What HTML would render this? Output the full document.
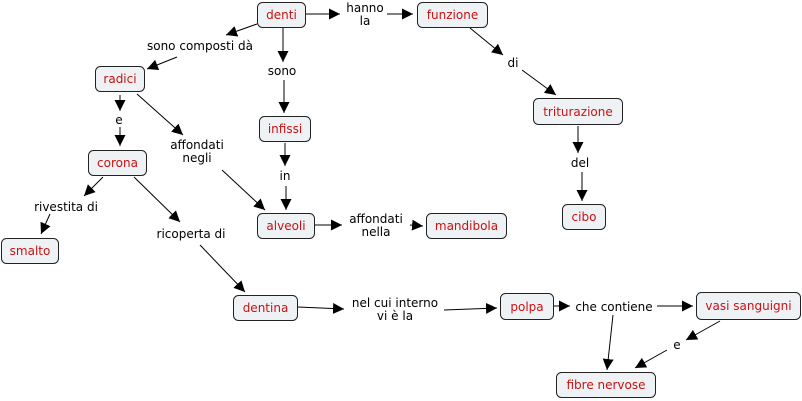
<!DOCTYPE html>
<html><head><meta charset="utf-8"><style>
html,body{margin:0;padding:0;background:#fff;width:802px;height:401px;overflow:hidden}
svg text{font-family:"DejaVu Sans","Liberation Sans",sans-serif;font-size:12px}
.n rect{fill:#eef2f5;stroke:#222;stroke-width:1}
.n text{fill:#cc1111;text-anchor:middle}
.l{fill:#000;text-anchor:middle}
line{stroke:#000;stroke-width:1}
</style></head><body>
<svg width="802" height="401" xmlns="http://www.w3.org/2000/svg">
<defs><marker id="a" viewBox="0 0 10 10" refX="10" refY="5" markerWidth="11" markerHeight="11" markerUnits="userSpaceOnUse" orient="auto"><path d="M0,0L10,5L0,10z" fill="#000"/></marker></defs>
<g>
<line x1="306" y1="14" x2="340" y2="14" marker-end="url(#a)"/>
<line x1="387" y1="14" x2="413" y2="14" marker-end="url(#a)"/>
<line x1="257" y1="24" x2="226" y2="35" marker-end="url(#a)"/>
<line x1="177" y1="57" x2="147" y2="69" marker-end="url(#a)"/>
<line x1="283" y1="28" x2="283" y2="62" marker-end="url(#a)"/>
<line x1="284" y1="80" x2="284" y2="113" marker-end="url(#a)"/>
<line x1="470" y1="28" x2="503" y2="55" marker-end="url(#a)"/>
<line x1="522" y1="70" x2="556" y2="95" marker-end="url(#a)"/>
<line x1="120" y1="95" x2="120" y2="111" marker-end="url(#a)"/>
<line x1="120" y1="127" x2="120" y2="146" marker-end="url(#a)"/>
<line x1="137" y1="94" x2="183" y2="135" marker-end="url(#a)"/>
<line x1="222" y1="170" x2="265" y2="210" marker-end="url(#a)"/>
<line x1="285" y1="143" x2="285" y2="166" marker-end="url(#a)"/>
<line x1="286" y1="186" x2="286" y2="210" marker-end="url(#a)"/>
<line x1="578" y1="126" x2="578" y2="153" marker-end="url(#a)"/>
<line x1="582" y1="172" x2="582" y2="201" marker-end="url(#a)"/>
<line x1="315" y1="225" x2="342" y2="225" marker-end="url(#a)"/>
<line x1="410" y1="225" x2="423" y2="226" marker-end="url(#a)"/>
<line x1="103" y1="177" x2="84" y2="196" marker-end="url(#a)"/>
<line x1="50" y1="214" x2="41" y2="234" marker-end="url(#a)"/>
<line x1="134" y1="177" x2="180" y2="222" marker-end="url(#a)"/>
<line x1="200" y1="245" x2="245" y2="292" marker-end="url(#a)"/>
<line x1="298" y1="307" x2="344" y2="309" marker-end="url(#a)"/>
<line x1="444" y1="310" x2="497" y2="308" marker-end="url(#a)"/>
<line x1="554" y1="306" x2="570" y2="306" marker-end="url(#a)"/>
<line x1="657" y1="306" x2="693" y2="306" marker-end="url(#a)"/>
<line x1="613" y1="315" x2="607" y2="370" marker-end="url(#a)"/>
<line x1="720" y1="321" x2="686" y2="340" marker-end="url(#a)"/>
<line x1="667" y1="350" x2="635" y2="368" marker-end="url(#a)"/>
</g>
<g class="n">
<rect x="257.5" y="2.5" width="48" height="25" rx="5"/><text x="281.5" y="19">denti</text>
<rect x="417.5" y="2.5" width="70" height="25" rx="5"/><text x="452.5" y="19">funzione</text>
<rect x="95.5" y="66.5" width="49" height="25" rx="5"/><text x="120" y="83">radici</text>
<rect x="259.5" y="116.5" width="51" height="25" rx="5"/><text x="285" y="133">infissi</text>
<rect x="533.5" y="98.5" width="89" height="26" rx="5"/><text x="578" y="116">triturazione</text>
<rect x="88.5" y="150.5" width="58" height="25" rx="5"/><text x="117.5" y="167">corona</text>
<rect x="257.5" y="213.5" width="57" height="25" rx="5"/><text x="286" y="230">alveoli</text>
<rect x="426.5" y="213.5" width="80" height="25" rx="5"/><text x="466.5" y="230">mandibola</text>
<rect x="562.5" y="204.5" width="43" height="25" rx="5"/><text x="584" y="221">cibo</text>
<rect x="1.5" y="238.5" width="57" height="25" rx="5"/><text x="30" y="255">smalto</text>
<rect x="233.5" y="295.5" width="64" height="25" rx="5"/><text x="265.5" y="312">dentina</text>
<rect x="500.5" y="293.5" width="53" height="26" rx="5"/><text x="527" y="311">polpa</text>
<rect x="696.5" y="292.5" width="104" height="27" rx="5"/><text x="748.5" y="310">vasi sanguigni</text>
<rect x="556.5" y="372.5" width="99" height="25" rx="5"/><text x="606" y="389">fibre nervose</text>
</g>
<g class="l">
<text x="365" y="12">hanno</text><text x="365" y="25">la</text>
<text x="200" y="50">sono composti dà</text>
<text x="282" y="75">sono</text>
<text x="513" y="67">di</text>
<text x="119" y="124">e</text>
<text x="197" y="149">affondati</text><text x="197" y="162">negli</text>
<text x="285" y="180">in</text>
<text x="580" y="167">del</text>
<text x="66" y="211">rivestita di</text>
<text x="191" y="238">ricoperta di</text>
<text x="376" y="223">affondati</text><text x="376" y="236">nella</text>
<text x="395" y="307">nel cui interno</text><text x="395" y="320">vi è la</text>
<text x="614" y="311">che contiene</text>
<text x="677" y="349">e</text>
</g>
</svg>
</body></html>
